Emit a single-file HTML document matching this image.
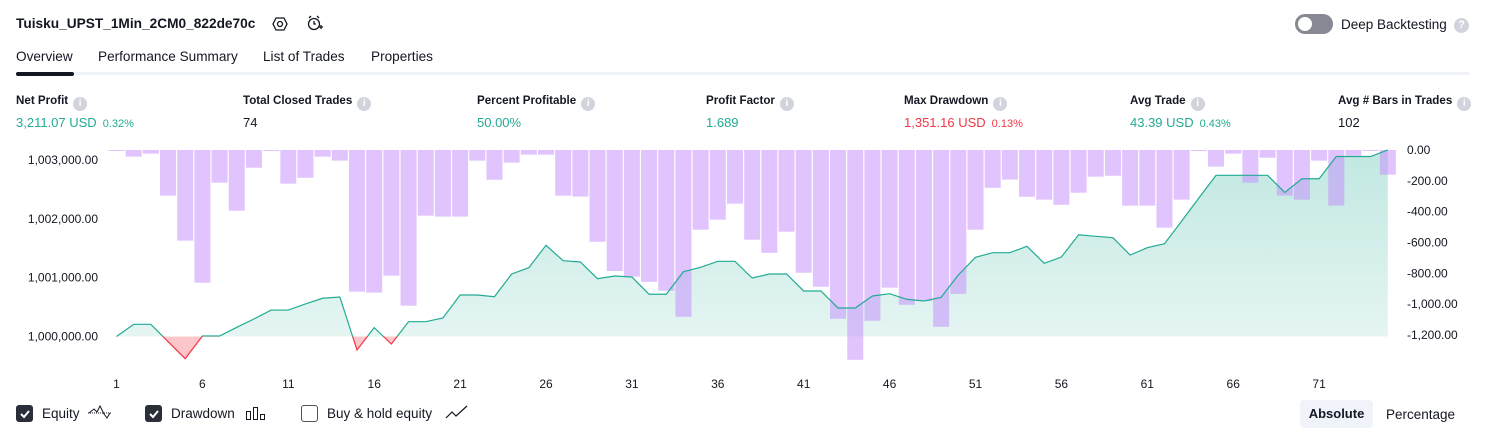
<!DOCTYPE html>
<html><head><meta charset="utf-8"><style>
body{margin:0;width:1486px;height:438px;background:#fff;font-family:"Liberation Sans",sans-serif;color:#131722;position:relative;overflow:hidden}
.a{position:absolute;white-space:nowrap}
.info{display:inline-block;width:14px;height:14px;border-radius:50%;background:#d1d4dc;color:#fff;font-size:10px;text-align:center;line-height:14px;vertical-align:-2px;margin-left:5px;font-weight:bold}
.lbl{font-size:11.6px;font-weight:bold;color:#131722}
.val{font-size:13px}
.g{color:#22ab94}.r{color:#f23645}
.sm{font-size:11px;margin-left:6px}
.tab{font-size:13.6px;top:49px}
.cb{position:absolute;width:17px;height:17px;border-radius:3px;top:405px}
</style></head><body>
<div class="a" style="left:16px;top:16px;font-size:13.7px;font-weight:bold">Tuisku_UPST_1Min_2CM0_822de70c</div>
<svg class="a" style="left:272px;top:16px" width="16" height="16"><polygon points="4,2 12,2 15,8 12,14 4,14 1,8" fill="none" stroke="#131722" stroke-width="1.3"/><circle cx="8" cy="8" r="2.5" fill="none" stroke="#131722" stroke-width="1.3"/></svg>
<svg class="a" style="left:306px;top:14px" width="18" height="18"><circle cx="8" cy="10" r="5.5" fill="none" stroke="#131722" stroke-width="1.3"/><path d="M8 7v3h2M3 4l2-2M13 4l-2-2M13 13h4M15 11v4" stroke="#131722" stroke-width="1.3" fill="none"/></svg>
<div class="a" style="left:1295px;top:14px;width:38px;height:20px;border-radius:10px;background:#868993"><div style="position:absolute;left:3px;top:3px;width:14px;height:14px;border-radius:50%;background:#fff"></div></div>
<div class="a" style="left:1341px;top:17px;font-size:13.5px">Deep Backtesting</div>
<div class="a" style="left:1454px;top:18px;width:15px;height:15px;border-radius:50%;background:#d1d4dc;color:#fff;font-size:11px;text-align:center;line-height:15px;font-weight:bold">?</div>
<div class="a tab" style="left:16px">Overview</div>
<div class="a tab" style="left:98px">Performance Summary</div>
<div class="a tab" style="left:263px">List of Trades</div>
<div class="a tab" style="left:371px">Properties</div>
<div class="a" style="left:16px;top:72px;width:1454px;height:3px;background:#f0f3fa"></div>
<div class="a" style="left:16px;top:72px;width:58px;height:4px;border-radius:2px;background:#131722"></div>

<div class="a" style="left:16px;top:94px"><div class="lbl">Net Profit<span class="info">i</span></div><div class="val g" style="margin-top:4px">3,211.07 USD<span class="sm">0.32%</span></div></div>
<div class="a" style="left:243px;top:94px"><div class="lbl">Total Closed Trades<span class="info">i</span></div><div class="val" style="margin-top:4px">74</div></div>
<div class="a" style="left:477px;top:94px"><div class="lbl">Percent Profitable<span class="info">i</span></div><div class="val g" style="margin-top:4px">50.00%</div></div>
<div class="a" style="left:706px;top:94px"><div class="lbl">Profit Factor<span class="info">i</span></div><div class="val g" style="margin-top:4px">1.689</div></div>
<div class="a" style="left:904px;top:94px"><div class="lbl">Max Drawdown<span class="info">i</span></div><div class="val r" style="margin-top:4px">1,351.16 USD<span class="sm">0.13%</span></div></div>
<div class="a" style="left:1130px;top:94px"><div class="lbl">Avg Trade<span class="info">i</span></div><div class="val g" style="margin-top:4px">43.39 USD<span class="sm">0.43%</span></div></div>
<div class="a" style="left:1338px;top:94px"><div class="lbl">Avg # Bars in Trades<span class="info">i</span></div><div class="val" style="margin-top:4px">102</div></div>

<svg id="chart" class="a" style="left:0;top:0" width="1486" height="400">
<defs>
<linearGradient id="gg" x1="0" y1="0" x2="0" y2="1"><stop offset="0" stop-color="#22ab94" stop-opacity="0.28"/><stop offset="1" stop-color="#22ab94" stop-opacity="0.1"/></linearGradient>
<linearGradient id="rg" x1="0" y1="0" x2="0" y2="1"><stop offset="0" stop-color="#f23645" stop-opacity="0.05"/><stop offset="1" stop-color="#f23645" stop-opacity="0.3"/></linearGradient>
<clipPath id="above"><rect x="0" y="0" width="1486" height="336.5"/></clipPath>
<clipPath id="below"><rect x="0" y="336.5" width="1486" height="100"/></clipPath>
</defs>
</svg>

<div class="cb" style="left:16px;background:#2a2e39"><svg width="17" height="17"><path d="M5 9l3 3 5-6" stroke="#fff" stroke-width="2" fill="none"/></svg></div>
<div class="a" style="left:42px;top:406px;font-size:13.5px">Equity</div>
<svg class="a" style="left:87px;top:404px" width="25" height="18"><path d="M1 9h23" stroke="#131722" stroke-dasharray="1 1"/><path d="M2 9l5-4 3 3 3-6 4 8 3 4 3-5" stroke="#131722" fill="none"/></svg>
<div class="cb" style="left:145px;background:#2a2e39"><svg width="17" height="17"><path d="M5 9l3 3 5-6" stroke="#fff" stroke-width="2" fill="none"/></svg></div>
<div class="a" style="left:171px;top:406px;font-size:13.5px">Drawdown</div>
<svg class="a" style="left:245px;top:405px" width="22" height="16"><rect x="1.5" y="6.5" width="4" height="8" fill="none" stroke="#131722"/><rect x="8.5" y="2.5" width="4" height="12" fill="none" stroke="#131722"/><rect x="15.5" y="9.5" width="4" height="5" fill="none" stroke="#131722"/></svg>
<div class="cb" style="left:301px;border:1.5px solid #50535e;width:15px;height:15px"></div>
<div class="a" style="left:327px;top:406px;font-size:13.5px">Buy &amp; hold equity</div>
<svg class="a" style="left:445px;top:405px" width="24" height="16"><path d="M1 13l6-6 4 4 11-10" stroke="#131722" fill="none" stroke-width="1.2"/></svg>
<div class="a" style="left:1300px;top:400px;width:73px;height:28px;border-radius:4px;background:#f0f3fa;font-size:13px;font-weight:bold;text-align:center;line-height:28px">Absolute</div>
<div class="a" style="left:1386px;top:407px;font-size:13.5px">Percentage</div>

<script>
const equity=[0,207,207,-88,-377,8,8,156,298,450,450,553,650,672,-230,150,-128,252,252,315,706,706,677,1063,1170,1551,1289,1267,983,1029,1012,718,718,1102,1177,1279,1279,995,1063,1063,774,774,485,485,689,728,633,604,667,1046,1347,1425,1425,1534,1245,1352,1731,1704,1681,1386,1510,1578,1963,2355,2741,2741,2741,2741,2450,2683,2683,3061,3061,3061,3172];
const drawdown=[-6,-43,-24,-296,-588,-861,-212,-394,-115,-5,-218,-180,-43,-69,-919,-925,-815,-1010,-426,-432,-432,-69,-193,-82,-30,-30,-296,-302,-595,-785,-822,-855,-913,-1082,-517,-452,-348,-582,-667,-530,-796,-887,-1095,-1361,-1108,-893,-1004,-980,-1147,-933,-517,-245,-192,-303,-322,-355,-277,-173,-167,-361,-361,-504,-322,-4,-108,-24,-212,-50,-296,-322,-69,-361,-37,-4,-160];
const xTicks=[1,6,11,16,21,26,31,36,41,46,51,56,61,66,71];
const leftTicks=[0,1000,2000,3000];
const rightTicks=[0,-200,-400,-600,-800,-1000,-1200];
const BASE=1000000;
const svg=document.getElementById('chart');
const NS='http://www.w3.org/2000/svg';
const x=i=>116.5+(i-1)*17.18;
const yE=v=>336.5-v*0.0588;
const yD=v=>150-v*(185/1200);
function mk(t,a){const e=document.createElementNS(NS,t);for(const k in a)e.setAttribute(k,a[k]);svg.appendChild(e);return e;}
let pts=equity.map((v,i)=>x(i+1)+','+yE(v)).join(' ');
let poly=x(1)+','+yE(0)+' '+pts+' '+x(equity.length)+','+yE(0);
let ga=mk('polygon',{points:poly,fill:'url(#gg)','clip-path':'url(#above)'});


let ra=mk('polygon',{points:poly,fill:'url(#rg)','clip-path':'url(#below)'});


drawdown.forEach((v,i)=>{const y0=yD(0),y1=yD(v);
 const b=mk('rect',{x:x(i+1)-8,y:y0,width:16,height:Math.max(1,y1-y0),fill:'#c389fd','fill-opacity':0.5});
 
 
});
let gl=mk('polyline',{points:pts,fill:'none',stroke:'#22ab94','stroke-width':1.2,'clip-path':'url(#above)'});


let rl=mk('polyline',{points:pts,fill:'none',stroke:'#f23645','stroke-width':1.2,'clip-path':'url(#below)'});


leftTicks.forEach(v=>{const t=mk('text',{x:98,y:yE(v)+4,'text-anchor':'end','font-size':12,fill:'#131722','font-family':'Liberation Sans, sans-serif'});t.textContent=(BASE+v).toLocaleString('en-US')+'.00';
 
 });
rightTicks.forEach(v=>{const t=mk('text',{x:1407,y:yD(v)+4,'font-size':12,fill:'#131722','font-family':'Liberation Sans, sans-serif'});t.textContent=(v<0?'-':'')+Math.abs(v).toLocaleString('en-US')+'.00';
 
 });
xTicks.forEach(v=>{const t=mk('text',{x:x(v),y:388,'text-anchor':'middle','font-size':12,fill:'#131722','font-family':'Liberation Sans, sans-serif'});t.textContent=v;
 
 });
</script>
</body></html>
